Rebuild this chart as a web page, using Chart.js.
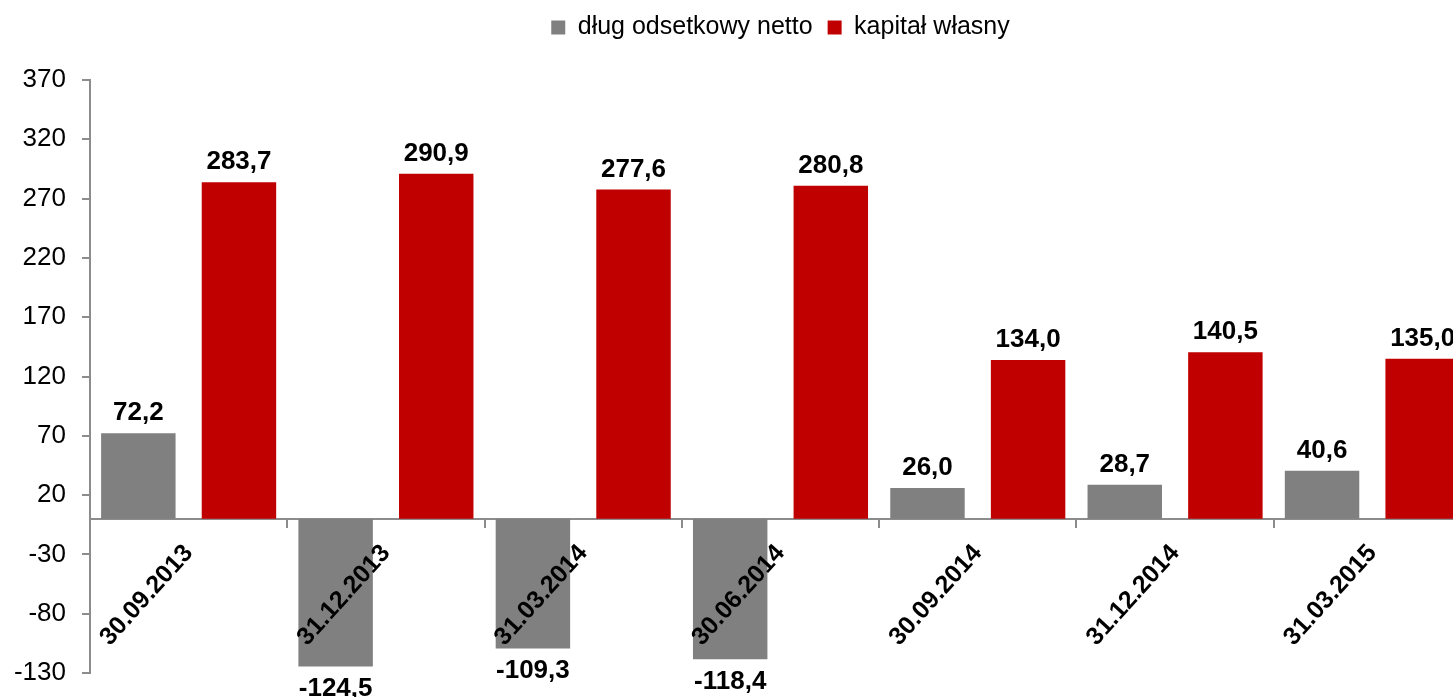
<!DOCTYPE html>
<html>
<head>
<meta charset="utf-8">
<script src="https://cdn.jsdelivr.net/npm/chart.js@4/dist/chart.umd.min.js"></script>
<style>
  html, body { margin: 0; padding: 0; overflow: hidden; background: #fff; }
  canvas { display: block; }
</style>
</head>
<body>
<canvas id="c" width="1480" height="697"></canvas>
<script>
const categories = ["30.09.2013", "31.12.2013", "31.03.2014", "30.06.2014", "30.09.2014", "31.12.2014", "31.03.2015"];
const debtNet = [72.2, -124.5, -109.3, -118.4, 26.0, 28.7, 40.6];
const equity = [283.7, 290.9, 277.6, 280.8, 134.0, 140.5, 135.0];
const yTicks = [-130, -80, -30, 20, 70, 120, 170, 220, 270, 320, 370];

const FONT = "'Liberation Sans', Arial, sans-serif";
const AXIS = "#8c8c8c";

// value labels above / below each bar
const valueLabels = {
  id: "valueLabels",
  afterDatasetsDraw(chart) {
    const ctx = chart.ctx;
    ctx.save();
    ctx.font = "bold 26px " + FONT;
    ctx.fillStyle = "#000";
    ctx.textAlign = "center";
    ctx.textBaseline = "alphabetic";
    chart.data.datasets.forEach((ds, i) => {
      chart.getDatasetMeta(i).data.forEach((bar, j) => {
        const v = ds.data[j];
        const txt = v.toFixed(1).replace(".", ",");
        if (v >= 0) ctx.fillText(txt, bar.x, bar.y - 13);
        else ctx.fillText(txt, bar.x, bar.y + 30);
      });
    });
    ctx.restore();
  }
};

// fixed legend band height so the plot starts at the right place
const legendBand = {
  id: "legendBand",
  beforeLayout(chart) {
    const lg = chart.legend;
    if (lg && !lg._patched) {
      const fit = lg.fit;
      lg.fit = function () { fit.call(this); this.height = 80; };
      lg._patched = true;
    }
  }
};

new Chart(document.getElementById("c"), {
  type: "bar",
  data: {
    labels: categories,
    datasets: [
      { label: "dług odsetkowy netto", data: debtNet, backgroundColor: "#808080" },
      { label: "kapitał własny", data: equity, backgroundColor: "#c00000" }
    ]
  },
  options: {
    responsive: false,
    animation: false,
    layout: { padding: { left: 0, right: 9, top: 0, bottom: 24 } },
    datasets: { bar: { categoryPercentage: 1.02, barPercentage: 0.74 } },
    plugins: {
      tooltip: { enabled: false },
      legend: {
        position: "top",
        fullSize: false,
        labels: {
          boxWidth: 14,
          boxHeight: 14,
          padding: 15,
          color: "#000",
          font: { family: FONT, size: 25 }
        }
      }
    },
    scales: {
      x: {
        position: { y: 0 },
        grid: { display: true, drawOnChartArea: false, offset: true, color: AXIS, tickLength: 8, lineWidth: 2 },
        border: { display: true, color: AXIS, width: 2 },
        ticks: {
          z: 1,
          minRotation: 48,
          maxRotation: 48,
          padding: 12,
          color: "#000",
          font: { family: FONT, size: 25, weight: "bold" }
        }
      },
      y: {
        min: -130,
        max: 370,
        afterBuildTicks(scale) { scale.ticks = yTicks.map(v => ({ value: v })); },
        afterFit(scale) { scale.width = 90; scale.paddingTop = 0; scale.paddingBottom = 0; },
        grid: { display: true, drawOnChartArea: false, color: AXIS, tickLength: 8, lineWidth: 2 },
        border: { display: true, color: AXIS, width: 2 },
        ticks: {
          padding: 16,
          color: "#000",
          font: { family: FONT, size: 26 }
        }
      }
    }
  },
  plugins: [valueLabels, legendBand]
});
</script>
</body>
</html>
